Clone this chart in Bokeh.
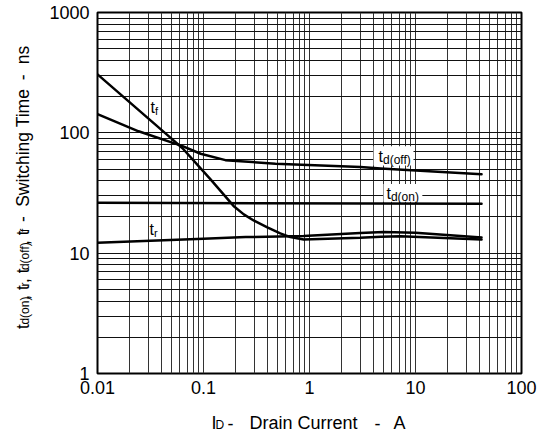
import math
from bokeh.plotting import figure
from bokeh.layouts import row, column
from bokeh.models import Label, FixedTicker, BoxAnnotation, Range1d
from bokeh.core.properties import value
from bokeh.embed import file_html
from bokeh.resources import INLINE

# ---------------- data ----------------
x_ticks = [0.01, 0.1, 1, 10, 100]
x_tick_labels = ["0.01", "0.1", "1", "10", "100"]
y_ticks = [1, 10, 100, 1000]
y_tick_labels = ["1", "10", "100", "1000"]

# fall time t_f
tf_x = [0.01, 0.0438, 0.0634, 0.116, 0.192, 0.24, 0.3, 0.4, 0.53, 0.66, 0.88, 3.0, 4.7, 7.2, 42]
tf_y = [306, 99, 74.5, 41.3, 24.7, 21.0, 18.6, 16.4, 14.6, 13.6, 13.0, 13.4, 13.7, 13.8, 13.0]

# turn-off delay t_d(off)
tdoff_x = [0.01, 0.0244, 0.0634, 0.094, 0.161, 0.478, 3.03, 4.7, 42]
tdoff_y = [143, 103, 77.5, 67, 59.3, 55.3, 51.9, 50.5, 45.3]

# turn-on delay t_d(on)
tdon_x = [0.01, 42]
tdon_y = [26.2, 25.8]

# rise time t_r
tr_x = [0.01, 0.1, 0.25, 0.88, 3.0, 5.0, 10, 42]
tr_y = [12.2, 13.2, 13.6, 13.9, 14.7, 15.0, 14.8, 13.5]

FONT = "Liberation Sans"
K = 0.33   # baseline correction (fraction of font size)

# ---------------- layout sizes ----------------
YW = 40            # width of the y-title strip
MW = 501           # main figure width
MH = 405           # main figure height
XH = 28            # x-title strip height
TOTAL_W = YW + MW

p = figure(width=MW, height=MH, x_axis_type="log", y_axis_type="log",
           x_range=Range1d(0.01, 100), y_range=Range1d(1, 1000),
           output_backend="svg", toolbar_location=None,
           min_border_left=57, min_border_right=20, min_border_top=12, min_border_bottom=32,
           background_fill_color="white", border_fill_color="white")

minor_x = [m * 10.0 ** e for e in range(-2, 2) for m in range(2, 10)]
minor_y = [m * 10.0 ** e for e in range(0, 3) for m in range(2, 10)]
p.xaxis.ticker = FixedTicker(ticks=x_ticks, minor_ticks=minor_x)
p.yaxis.ticker = FixedTicker(ticks=y_ticks, minor_ticks=minor_y)
p.xaxis.major_label_overrides = {t: l for t, l in zip(x_ticks, x_tick_labels)}
p.yaxis.major_label_overrides = {t: l for t, l in zip(y_ticks, y_tick_labels)}

for ax in (p.xaxis, p.yaxis):
    ax.major_tick_out = 0
    ax.major_tick_in = 0
    ax.minor_tick_out = 0
    ax.minor_tick_in = 0
    ax.axis_line_color = None
    ax.major_label_text_font = FONT
    ax.major_label_text_font_size = "18px"
    ax.major_label_text_color = "black"
p.xaxis.major_label_standoff = 7
p.yaxis.major_label_standoff = 8

p.xgrid.grid_line_color = "#333333"
p.xgrid.minor_grid_line_color = "#333333"
p.ygrid.grid_line_color = "#111111"
p.ygrid.minor_grid_line_color = "#111111"
for g in (p.xgrid, p.ygrid):
    g.grid_line_width = 1
    g.minor_grid_line_width = 1
    g.grid_line_alpha = 1
    g.minor_grid_line_alpha = 1

p.outline_line_color = "black"
p.outline_line_width = 2
p.outline_line_alpha = 1

# white boxes behind the delay-time labels
p.add_layout(BoxAnnotation(left=4.02, right=9.57, bottom=53.5, top=77.4,
                           fill_color="white", fill_alpha=1, line_color=None, level="underlay"))
p.add_layout(BoxAnnotation(left=4.99, right=11.6, bottom=26.8, top=37.5,
                           fill_color="white", fill_alpha=1, line_color=None, level="underlay"))

for xs, ys in ((tf_x, tf_y), (tdoff_x, tdoff_y), (tdon_x, tdon_y), (tr_x, tr_y)):
    p.line(xs, ys, line_color="black", line_width=2.5, line_join="round", line_cap="round")

# ---------- texts ----------
W = {"t": .278, "d": .556, "(": .333, ")": .333, "o": .556, "n": .556, "f": .278, ",": .278,
     " ": .278, "r": .333, "-": .333}


def width(s, size):
    return sum(W.get(c, .556) for c in s) * size


def data_label(txt, x, y, size, dx=0, dy=0):
    p.add_layout(Label(x=x, y=y, x_offset=dx, y_offset=dy + K * size, text=txt, text_font=FONT,
                       text_font_size=f"{size}px", text_color="black",
                       text_align="left", text_baseline="alphabetic"))


MAIN, SUB = 16, 12
data_label("t", 0.0316, 148, MAIN)
data_label("f", 0.0316, 148, 11, dx=width("t", MAIN), dy=-2)
data_label("t", 0.031, 14.2, MAIN)
data_label("r", 0.031, 14.2, 11, dx=width("t", MAIN), dy=-2)
data_label("t", 4.48, 57, MAIN)
data_label("d(off)", 4.48, 57, SUB, dx=width("t", MAIN), dy=-2)
data_label("t", 5.32, 28.2, MAIN)
data_label("d(on)", 5.32, 28.2, SUB, dx=width("t", MAIN), dy=-2)


def strip(w, h):
    f = figure(width=w, height=h, x_range=Range1d(0, w), y_range=Range1d(0, h),
               output_backend="svg", toolbar_location=None,
               x_axis_location=None, y_axis_location=None,
               min_border=0, min_border_left=0, min_border_right=0,
               min_border_top=0, min_border_bottom=0,
               background_fill_color="white", border_fill_color="white")
    f.outline_line_color = None
    f.xgrid.visible = False
    f.ygrid.visible = False
    return f


def put(f, txt, x, y, size, angle=0.0):
    f.text(x=[x], y=[y], text=[txt], angle=angle, text_font=value(FONT),
           text_font_size=value(f"{size}px"), text_color="black",
           text_align="left", text_baseline="alphabetic")


# y-axis title strip (page px: x as is, y measured from strip bottom = page y MH)
yf = strip(YW, MH)
YT, YS = 17.5, 12
up = math.pi / 2
pos = 355.0
for txt, sub in (("t", False), ("d(on)", True), (", t", False), ("r", True),
                 (", t", False), ("d(off)", True), (", t", False), ("f", True)):
    size = YS if sub else YT
    put(yf, txt, (30.5 if sub else 28) - K * YT, MH - pos, size, angle=up)
    pos -= width(txt, size)
for txt, start in (("-", 235), ("Switching Time", 218), ("-", 76), ("ns", 58)):
    put(yf, txt, 28 - K * YT, MH - start, YT, angle=up)

# x-axis title strip (page px: y measured from bottom of the whole layout)
xf = strip(TOTAL_W, XH)
XT = 18
BOT = MH + XH
for txt, x0, base, size in (("I", 211, 428.5, XT), ("D", 215, 430.5, 12), ("-", 227, 428.5, XT),
                            ("Drain Current", 249, 428.5, XT), ("-", 374, 428.5, XT),
                            ("A", 393, 428.5, XT)):
    put(xf, txt, x0, BOT - base + K * XT, size)

layout = column(row(yf, p, spacing=0), xf, spacing=0)
open("out.html", "w").write(file_html(layout, INLINE))
